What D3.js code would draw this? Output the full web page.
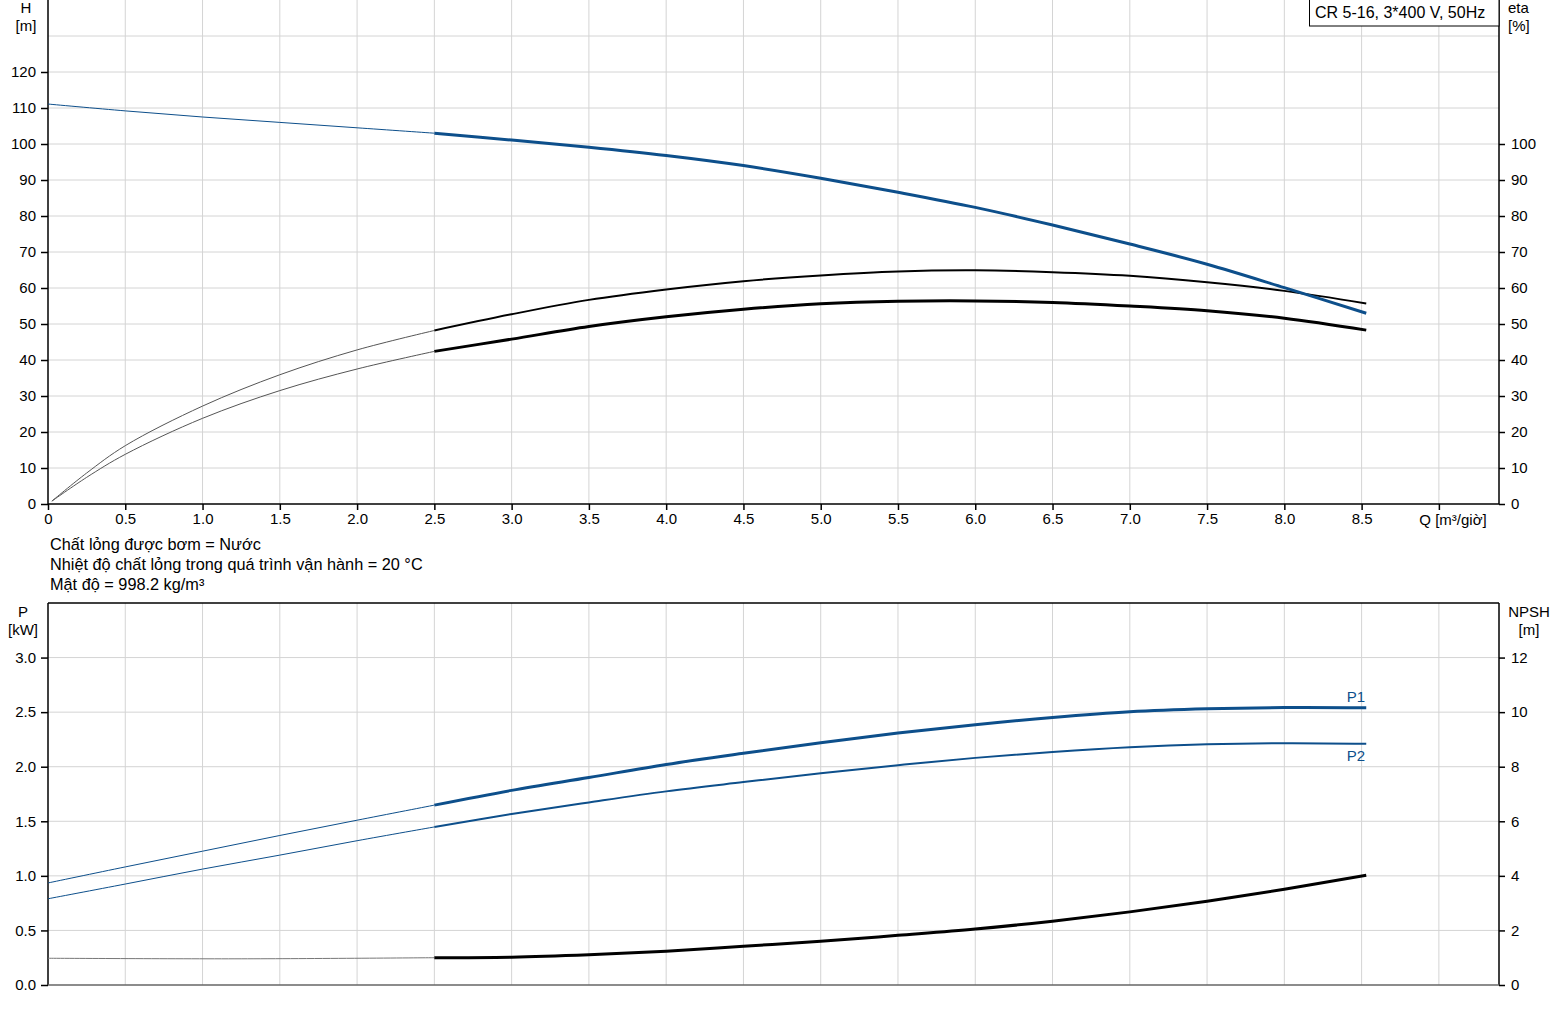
<!DOCTYPE html>
<html>
<head>
<meta charset="utf-8">
<script src="https://d3js.org/d3.v7.min.js"></script>
<style>
    html, body { margin: 0; padding: 0; background: #fff; }
    svg text { font-family: "Liberation Sans", Arial, sans-serif; font-size: 15px; fill: #000; }
    svg text.big { font-size: 16.3px; }
</style>
</head>
<body>
<div id="pumpChart"></div>
<script>
// Q [m3/h] sample points, thin (extrapolated) part and operating part
const qThin = [0, 0.5, 1.0, 1.5, 2.0, 2.5];
const qEtaThin = [0.025, 0.25, 0.5, 1.0, 1.5, 2.0, 2.5];
const qMain = [2.5, 3.0, 3.5, 4.0, 4.5, 5.0, 5.5, 6.0, 6.5, 7.0, 7.5, 8.0, 8.53];
const qNpshThin = [0, 1.25, 2.5];

// head H [m]
const hThin = [111.1, 109.2, 107.5, 106.0, 104.5, 103.0];
const hMain = [103.0, 101.1, 99.1, 96.8, 94.0, 90.5, 86.6, 82.4, 77.5, 72.2, 66.6, 60.1, 53.0];

// efficiencies eta [%]
const etaUpperThin = [0.8, 8.6, 16.2, 27.2, 35.9, 42.8, 48.2];
const etaUpperMain = [48.2, 52.7, 56.7, 59.6, 61.9, 63.5, 64.6, 64.9, 64.4, 63.4, 61.6, 59.2, 55.7];
const etaLowerThin = [0.8, 7.4, 13.8, 23.8, 31.5, 37.5, 42.4];
const etaLowerMain = [42.4, 45.8, 49.3, 52.0, 54.1, 55.6, 56.3, 56.4, 56.0, 55.0, 53.7, 51.6, 48.3];

// power P1 / P2 [kW]
const p1Thin = [0.935, 1.082, 1.226, 1.370, 1.510, 1.648];
const p1Main = [1.648, 1.783, 1.901, 2.020, 2.123, 2.220, 2.309, 2.385, 2.451, 2.503, 2.530, 2.542, 2.540];
const p2Thin = [0.790, 0.925, 1.062, 1.190, 1.322, 1.448];
const p2Main = [1.448, 1.567, 1.673, 1.774, 1.859, 1.941, 2.014, 2.081, 2.135, 2.178, 2.205, 2.215, 2.210];

// NPSH [m]
const npshThin = [0.98, 0.96, 1.0];
const npshMain = [1.0, 1.02, 1.11, 1.24, 1.42, 1.60, 1.82, 2.05, 2.34, 2.68, 3.07, 3.51, 4.02];

// ticks
const qTicks = [0, 0.5, 1.0, 1.5, 2.0, 2.5, 3.0, 3.5, 4.0, 4.5, 5.0, 5.5, 6.0, 6.5, 7.0, 7.5, 8.0, 8.5];
const hTicks = [0, 10, 20, 30, 40, 50, 60, 70, 80, 90, 100, 110, 120];
const hGrid = [10, 20, 30, 40, 50, 60, 70, 80, 90, 100, 110, 120, 130];
const etaTicks = [0, 10, 20, 30, 40, 50, 60, 70, 80, 90, 100];
const pTicks = [0, 0.5, 1.0, 1.5, 2.0, 2.5, 3.0];
const npshTicks = [0, 2, 4, 6, 8, 10, 12];

const notes = [
    "Chất lỏng được bơm = Nước",
    "Nhiệt độ chất lỏng trong quá trình vận hành = 20 °C",
    "Mật độ = 998.2 kg/m³"
];
const title = "CR 5-16, 3*400 V, 50Hz";

const blue = "#0d4f8b";
const gridColor = "#d4d4d4";

const W = 1560, H = 1009;
const left = 48, right = 1499;
const topY0 = 0, topY1 = 504;
const botY0 = 603, botY1 = 985;

const svg = d3.select("#pumpChart").append("svg")
    .attr("width", W)
    .attr("height", H);

const x = d3.scaleLinear().domain([0, 9.389]).range([left, right]);
const yH = d3.scaleLinear().domain([0, 140]).range([topY1, topY0]);
const yEta = d3.scaleLinear().domain([0, 140]).range([topY1, topY0]);
const yP = d3.scaleLinear().domain([0, 3.5]).range([botY1, botY0]);
const yNpsh = d3.scaleLinear().domain([0, 14]).range([botY1, botY0]);

const zip = (qs, vs) => qs.map((q, i) => [q, vs[i]]);

function drawCurve(g, qs, vs, yScale, color, width) {
    let line = d3.line()
        .x(d => x(d[0]))
        .y(d => yScale(d[1]))
        .curve(d3.curveCatmullRom.alpha(0.5));
    g.append("path")
        .attr("d", line(zip(qs, vs)))
        .attr("fill", "none")
        .attr("stroke", color)
        .attr("stroke-width", width)
        .attr("stroke-linecap", "butt");
}

function drawGrid(g, yScale, yGrid, y0, y1) {
    let gridX = qTicks.slice(1).concat([9.0]);
    g.selectAll(".vgrid").data(gridX).enter().append("line")
        .attr("x1", d => x(d)).attr("x2", d => x(d))
        .attr("y1", y0).attr("y2", y1)
        .attr("stroke", gridColor).attr("stroke-width", 1);
    g.selectAll(".hgrid").data(yGrid).enter().append("line")
        .attr("x1", left).attr("x2", right)
        .attr("y1", d => yScale(d)).attr("y2", d => yScale(d))
        .attr("stroke", gridColor).attr("stroke-width", 1);
}

function styleAxis(axisG) {
    axisG.select(".domain").remove();
    axisG.selectAll(".tick line").attr("stroke", "#000").attr("stroke-width", 1.5);
    axisG.selectAll(".tick text")
        .attr("fill", "#000")
        .style("font-family", "'Liberation Sans', Arial, sans-serif")
        .style("font-size", "15px");
}

// ---------- top chart: H and eta ----------
let topG = svg.append("g").attr("class", "topChart");
drawGrid(topG, yH, hGrid, topY0, topY1);

let axH = topG.append("g").attr("transform", `translate(${left},0)`)
    .call(d3.axisLeft(yH).tickValues(hTicks).tickFormat(d3.format("d")).tickSize(7).tickPadding(5));
styleAxis(axH);
let axEta = topG.append("g").attr("transform", `translate(${right},0)`)
    .call(d3.axisRight(yEta).tickValues(etaTicks).tickFormat(d3.format("d")).tickSize(6).tickPadding(6));
styleAxis(axEta);
let axQ = topG.append("g").attr("transform", `translate(0,${topY1})`)
    .call(d3.axisBottom(x).tickValues(qTicks.concat([9.0]))
        .tickFormat(d => d === 0 ? "0" : d === 9 ? "" : d3.format(".1f")(d))
        .tickSize(6).tickPadding(3));
styleAxis(axQ);

topG.append("line").attr("x1", left).attr("x2", left).attr("y1", topY0).attr("y2", topY1)
    .attr("stroke", "#000").attr("stroke-width", 1.5);
topG.append("line").attr("x1", right).attr("x2", right).attr("y1", topY0).attr("y2", topY1)
    .attr("stroke", "#000").attr("stroke-width", 1.5);
topG.append("line").attr("x1", left).attr("x2", right).attr("y1", topY1).attr("y2", topY1)
    .attr("stroke", "#000").attr("stroke-width", 1.5);

topG.append("text").attr("x", 1453).attr("y", 525).attr("text-anchor", "middle").text("Q [m³/giờ]");
topG.append("text").attr("x", 26).attr("y", 13).attr("text-anchor", "middle").text("H");
topG.append("text").attr("x", 26).attr("y", 31).attr("text-anchor", "middle").text("[m]");
topG.append("text").attr("x", 1508).attr("y", 13).text("eta");
topG.append("text").attr("x", 1508).attr("y", 31).text("[%]");

// title box in the corner
topG.append("rect").attr("x", 1309.5).attr("y", -1).attr("width", right - 1309.5).attr("height", 27)
    .attr("fill", "#fff").attr("stroke", "#000").attr("stroke-width", 1);
topG.append("text").attr("class", "big").attr("x", 1315).attr("y", 18).style("font-size", "16px").text(title);

drawCurve(topG, qEtaThin, etaUpperThin, yEta, "#555", 1);
drawCurve(topG, qEtaThin, etaLowerThin, yEta, "#555", 1);
drawCurve(topG, qThin, hThin, yH, blue, 1);
drawCurve(topG, qMain, etaUpperMain, yEta, "#000", 2);
drawCurve(topG, qMain, etaLowerMain, yEta, "#000", 3);
drawCurve(topG, qMain, hMain, yH, blue, 3);

// ---------- notes ----------
svg.selectAll(".note").data(notes).enter().append("text")
    .attr("class", "big")
    .attr("x", 50)
    .attr("y", (d, i) => 550 + i * 20)
    .text(d => d);

// ---------- bottom chart: P1, P2, NPSH ----------
let botG = svg.append("g").attr("class", "bottomChart");
drawGrid(botG, yP, pTicks.slice(1), botY0, botY1);

let axP = botG.append("g").attr("transform", `translate(${left},0)`)
    .call(d3.axisLeft(yP).tickValues(pTicks).tickFormat(d3.format(".1f")).tickSize(7).tickPadding(5));
styleAxis(axP);
let axN = botG.append("g").attr("transform", `translate(${right},0)`)
    .call(d3.axisRight(yNpsh).tickValues(npshTicks).tickFormat(d3.format("d")).tickSize(6).tickPadding(6));
styleAxis(axN);

botG.append("line").attr("x1", left).attr("x2", right).attr("y1", botY0).attr("y2", botY0)
    .attr("stroke", "#000").attr("stroke-width", 1.5);
botG.append("line").attr("x1", left).attr("x2", left).attr("y1", botY0).attr("y2", botY1)
    .attr("stroke", "#000").attr("stroke-width", 1.5);
botG.append("line").attr("x1", right).attr("x2", right).attr("y1", botY0).attr("y2", botY1)
    .attr("stroke", "#000").attr("stroke-width", 1.5);
botG.append("line").attr("x1", left).attr("x2", right).attr("y1", botY1).attr("y2", botY1)
    .attr("stroke", "#666").attr("stroke-width", 1.5);

botG.append("text").attr("x", 23).attr("y", 617).attr("text-anchor", "middle").text("P");
botG.append("text").attr("x", 23).attr("y", 635).attr("text-anchor", "middle").text("[kW]");
botG.append("text").attr("x", 1529).attr("y", 617).attr("text-anchor", "middle").text("NPSH");
botG.append("text").attr("x", 1529).attr("y", 635).attr("text-anchor", "middle").text("[m]");

drawCurve(botG, qThin, p1Thin, yP, blue, 1);
drawCurve(botG, qThin, p2Thin, yP, blue, 1);
drawCurve(botG, qNpshThin, npshThin, yNpsh, "#777", 1);
drawCurve(botG, qMain, p1Main, yP, blue, 3);
drawCurve(botG, qMain, p2Main, yP, blue, 2);
drawCurve(botG, qMain, npshMain, yNpsh, "#000", 3);

botG.append("text").attr("x", 1356).attr("y", 702).attr("text-anchor", "middle")
    .style("fill", blue).text("P1");
botG.append("text").attr("x", 1356).attr("y", 761).attr("text-anchor", "middle")
    .style("fill", blue).text("P2");
</script>
</body>
</html>
